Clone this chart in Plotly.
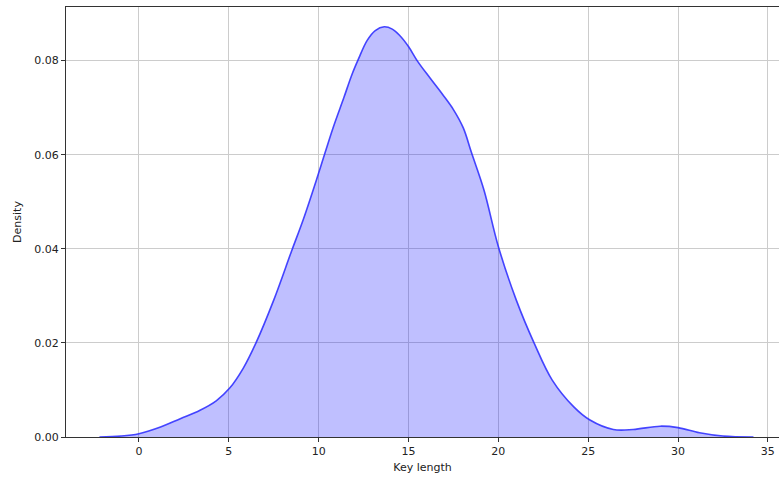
import plotly.graph_objects as go

key_length = [-2.2, -1.0, 0.0, 1.2, 2.3, 3.4, 4.3, 5.05, 5.8, 6.5, 7.5, 8.5, 9.15, 10.0,
              10.8, 11.4, 11.85, 12.2, 12.7, 13.15, 13.65, 14.1, 14.5, 15.0, 15.5, 16.2,
              16.9, 17.5, 18.05, 18.5, 19.2, 20.0, 21.0, 22.0, 23.0, 24.2, 25.1, 26.4,
              27.5, 29.0, 30.0, 31.2, 32.5, 34.2]
density = [0.0000, 0.0002, 0.0007, 0.0021, 0.0039, 0.0057, 0.0077, 0.0104, 0.0146,
           0.0199, 0.0291, 0.0396, 0.0463, 0.0561, 0.0657, 0.0721, 0.0770, 0.0802,
           0.0843, 0.0864, 0.0872, 0.0867, 0.0854, 0.0830, 0.0799, 0.0763, 0.0728,
           0.0696, 0.0657, 0.0605, 0.0525, 0.0405, 0.0291, 0.0199, 0.0121, 0.0064,
           0.0036, 0.0016, 0.0016, 0.0023, 0.0020, 0.0009, 0.0002, 0.0000]

x_ticks = [0, 5, 10, 15, 20, 25, 30, 35]
y_ticks = [0.00, 0.02, 0.04, 0.06, 0.08]

fig = go.Figure()
fig.add_trace(go.Scatter(
    x=key_length, y=density, mode="lines",
    line=dict(color="rgba(40,40,255,0.85)", width=1.6, shape="spline", smoothing=1.0),
    fill="tozeroy", fillcolor="rgba(0,0,255,0.25)",
    hoverinfo="skip", showlegend=False,
))

font = dict(family="DejaVu Sans", size=11, color="#222")
fig.update_layout(
    width=779, height=477,
    margin=dict(l=66, r=0, t=7, b=40),
    paper_bgcolor="white", plot_bgcolor="white",
    font=font,
    xaxis=dict(
        range=[-4.06, 35.62], tickvals=x_ticks, ticktext=[str(v) for v in x_ticks],
        showgrid=True, gridcolor="#cccccc", gridwidth=1, automargin=False,
        showline=True, linecolor="#333", linewidth=1, mirror=True,
        ticks="outside", ticklen=4, tickcolor="#333", zeroline=False,
        title=dict(text="Key length", font=font, standoff=6),
    ),
    yaxis=dict(
        range=[0, 0.0914], tickvals=y_ticks, ticktext=[f"{v:.2f}" for v in y_ticks],
        showgrid=True, gridcolor="#cccccc", gridwidth=1, automargin=False,
        showline=True, linecolor="#333", linewidth=1,
        ticks="outside", ticklen=4, tickcolor="#333", zeroline=False,
        title=dict(text="Density", font=font, standoff=10),
    ),
)

fig.write_html(
    "out.html",
    config={"displayModeBar": False},
    post_script="document.body.style.margin='0';document.body.style.overflow='hidden';",
)
